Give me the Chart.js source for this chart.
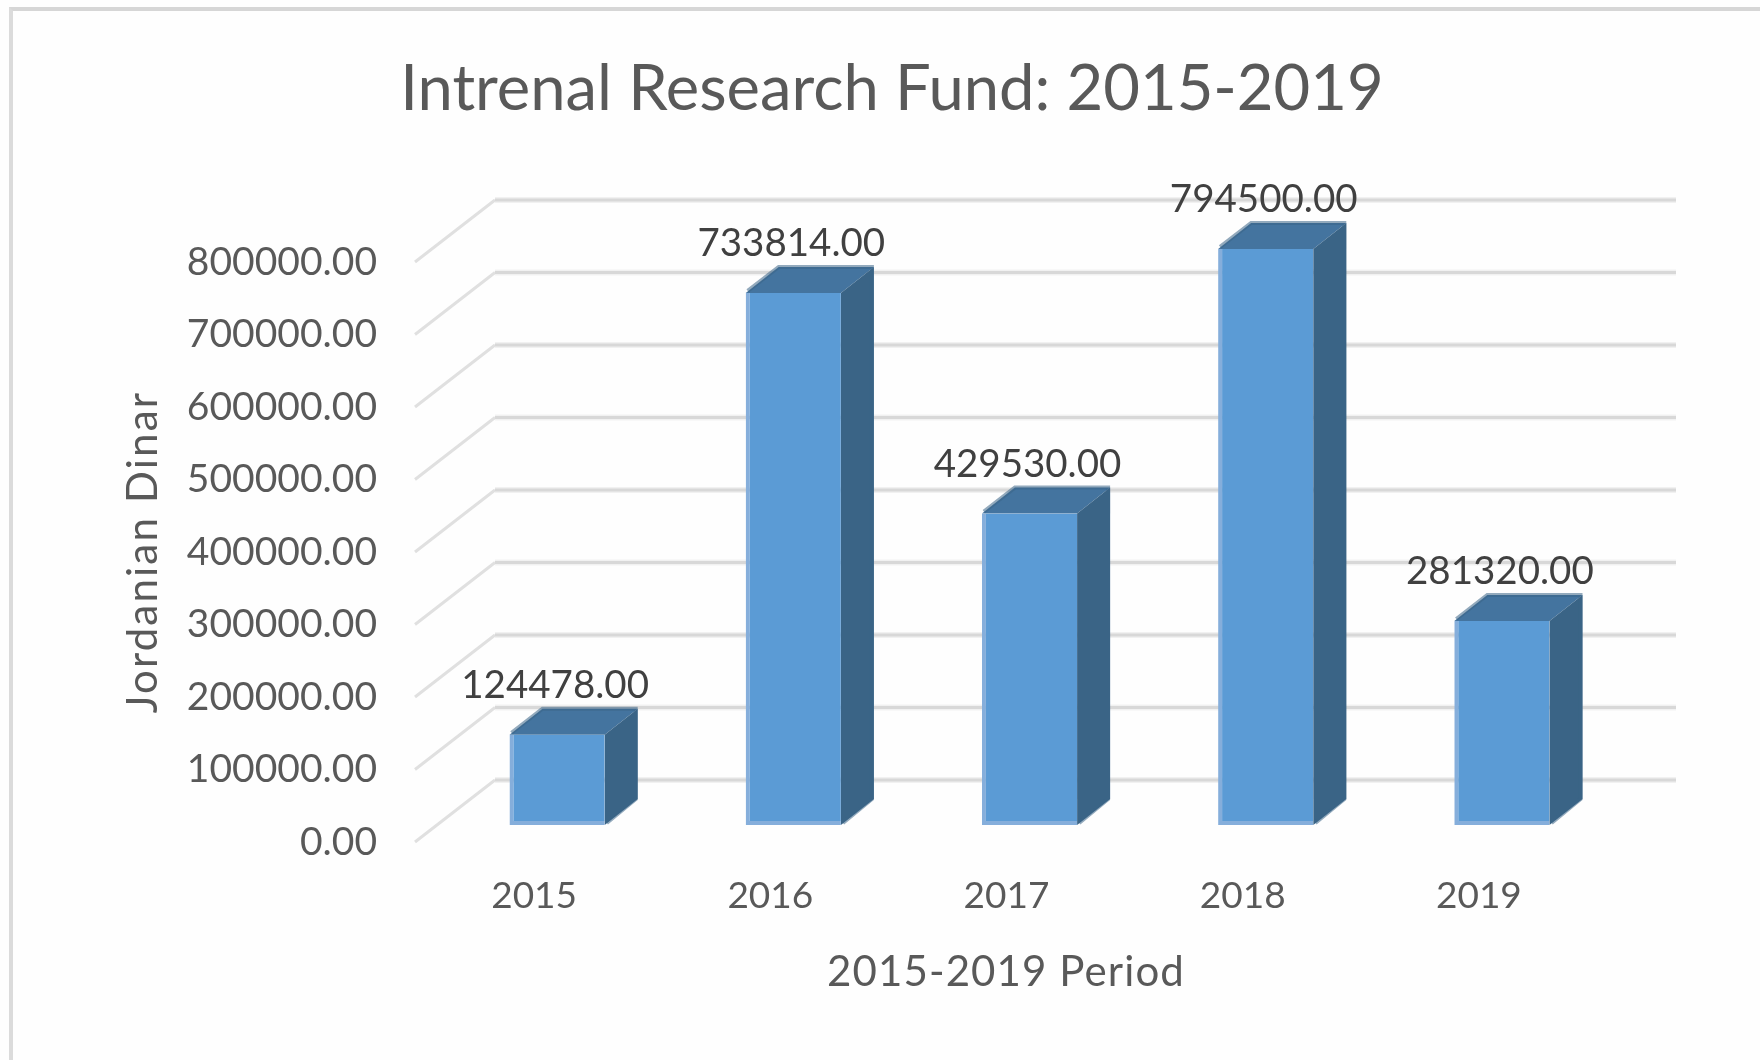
<!DOCTYPE html>
<html>
<head>
<meta charset="utf-8">
<title>Intrenal Research Fund</title>
<script src="https://cdn.jsdelivr.net/npm/chart.js@4"></script>
<style>
    body { margin: 0; background: #fefefe; }
    #frame { position: absolute; left: 9px; top: 7px; right: 0; bottom: 0; border-left: 4px solid #dbdbdb; border-top: 4px solid #d6d6d6; }
    #fund { position: absolute; left: 0; top: 0; }
</style>
</head>
<body>
<div id="frame"></div>
<canvas id="fund" width="1760" height="1060"></canvas>
<script>
const years = ['2015', '2016', '2017', '2018', '2019'];
const funds = [124478, 733814, 429530, 794500, 281320];
const yTicks = [0, 100000, 200000, 300000, 400000, 500000, 600000, 700000, 800000];
const chartTitle = 'Intrenal Research Fund: 2015-2019';
const xTitle = '2015-2019 Period';
const yTitle = 'Jordanian Dinar';

const fontFamily = 'Lato, sans-serif';
const grey = '#595959';

// fake 3D box: depth goes up and to the right of every front face
const depthX = 33, depthY = 26;

const walls = {
    id: 'walls',
    beforeDatasetsDraw(chart) {
    const c = chart.ctx, y = chart.scales.y;
    c.save();
    yTicks.forEach(v => {
        const py = y.getPixelForValue(v);
        c.lineWidth = 3;
        c.strokeStyle = '#e0e0e0';
        c.beginPath();
        c.moveTo(415, py + 17);
        c.lineTo(495, py - 45);
        c.stroke();
        // back wall line, pale band with a darker core
        c.lineWidth = 6;
        c.strokeStyle = '#f1f1f1';
        c.beginPath();
        c.moveTo(495, py - 45);
        c.lineTo(1676, py - 45);
        c.stroke();
        c.lineWidth = 3;
        c.strokeStyle = '#d8d8d8';
        c.stroke();
    });
    c.restore();
    }
};

const boxes = {
    id: 'boxes',
    beforeDatasetsDraw(chart) {
    const c = chart.ctx;
    c.save();
    chart.getDatasetMeta(0).data.forEach(bar => {
        const l = bar.x - bar.width / 2, r = bar.x + bar.width / 2;
        // top face
        c.fillStyle = '#44749f';
        c.beginPath();
        c.moveTo(l, bar.y);
        c.lineTo(l + depthX, bar.y - depthY);
        c.lineTo(r + depthX, bar.y - depthY);
        c.lineTo(r, bar.y);
        c.closePath();
        c.fill();
        // side face
        c.fillStyle = '#3a6486';
        c.beginPath();
        c.moveTo(r, bar.y);
        c.lineTo(r + depthX, bar.y - depthY);
        c.lineTo(r + depthX, bar.base - depthY);
        c.lineTo(r, bar.base);
        c.closePath();
        c.fill();
        // soft outer edge
        c.strokeStyle = 'rgba(58,100,134,0.55)';
        c.lineWidth = 4;
        c.beginPath();
        c.moveTo(l + 2, bar.y - 2);
        c.lineTo(l + depthX, bar.y - depthY);
        c.lineTo(r + depthX - 2, bar.y - depthY);
        c.lineTo(r + depthX - 2, bar.base - depthY);
        c.lineTo(r + 2, bar.base - 2);
        c.stroke();
    });
    c.restore();
    }
};

const texts = {
    id: 'texts',
    afterDatasetsDraw(chart) {
    const c = chart.ctx;
    c.save();
    c.textAlign = 'center';
    c.textBaseline = 'middle';
    c.font = '38.5px ' + fontFamily;
    c.fillStyle = '#404040';
    chart.getDatasetMeta(0).data.forEach((bar, i) => {
        c.fillText(funds[i].toFixed(2), bar.x - 2, bar.y - 49);
    });
    c.font = '42px ' + fontFamily;
    c.fillStyle = grey;
    c.letterSpacing = '1.1px';
    c.fillText(xTitle, 1006, 972);
    c.letterSpacing = '2.2px';
    c.translate(143, 552);
    c.rotate(-Math.PI / 2);
    c.fillText(yTitle, 0, 0);
    c.restore();
    }
};

new Chart(document.getElementById('fund'), {
    type: 'bar',
    data: {
    labels: years,
    datasets: [{
        label: 'Internal research fund',
        data: funds,
        backgroundColor: '#5b9bd5',
        borderColor: '#85aedb',
        borderWidth: { left: 4, bottom: 4, top: 0, right: 0 },
        borderSkipped: false,
        barPercentage: 0.403,
        categoryPercentage: 1
    }]
    },
    options: {
    responsive: false,
    animation: false,
    layout: { padding: { left: 164, right: 140, top: 0, bottom: 0 } },
    plugins: {
        legend: { display: false },
        tooltip: { enabled: false },
        title: {
        display: true,
        text: chartTitle,
        color: grey,
        font: { family: fontFamily, size: 63.3, weight: 'normal' },
        padding: { top: 52, bottom: 117 }
        }
    },
    scales: {
        x: {
        grid: { display: false },
        border: { display: false },
        afterFit: s => { s.height = 235; },
        ticks: {
            color: grey,
            font: { family: fontFamily, size: 37 },
            padding: 41,
            labelOffset: -23,
            maxRotation: 0
        }
        },
        y: {
        min: 0,
        max: 800000,
        grid: { display: false },
        border: { display: false },
        afterFit: s => { s.width = 275; },
        ticks: {
            stepSize: 100000,
            color: grey,
            font: { family: fontFamily, size: 39 },
            padding: 54,
            labelOffset: 17,
            callback: v => v.toFixed(2)
        }
        }
    }
    },
    plugins: [walls, boxes, texts]
});
</script>
</body>
</html>
